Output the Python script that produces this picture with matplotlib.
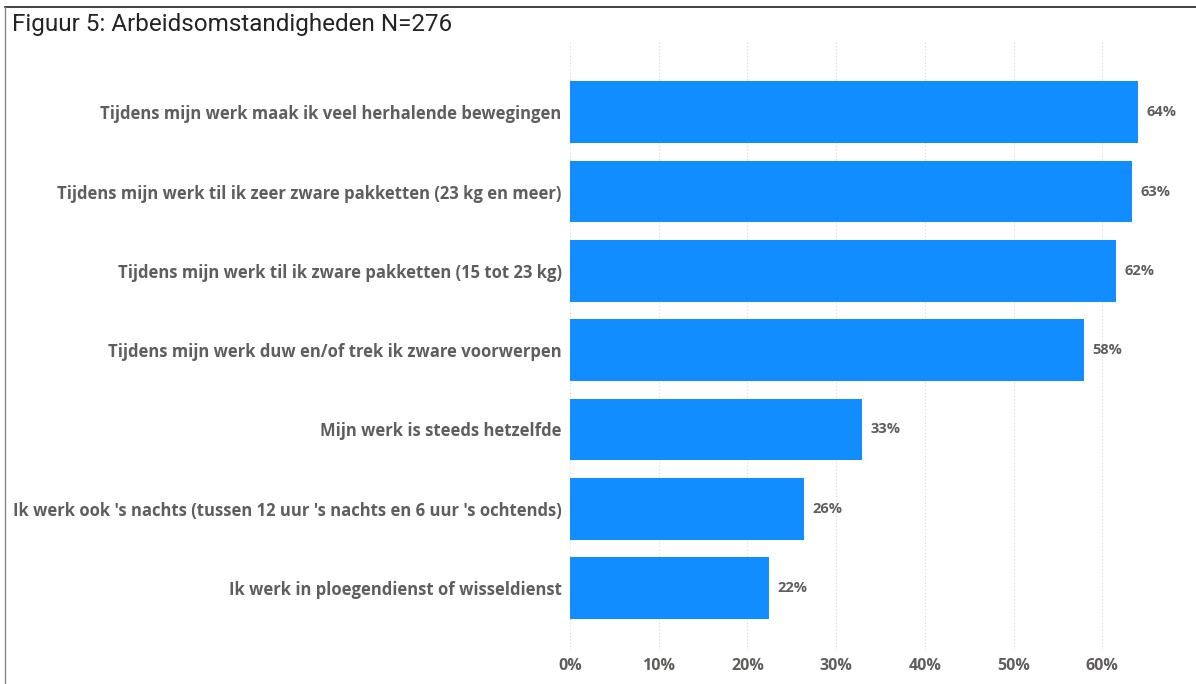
import matplotlib.pyplot as plt
from matplotlib.lines import Line2D
from matplotlib.ticker import FuncFormatter

# data
categories = [
    "Tijdens mijn werk maak ik veel herhalende bewegingen",
    "Tijdens mijn werk til ik zeer zware pakketten (23 kg en meer)",
    "Tijdens mijn werk til ik zware pakketten (15 tot 23 kg)",
    "Tijdens mijn werk duw en/of trek ik zware voorwerpen",
    "Mijn werk is steeds hetzelfde",
    "Ik werk ook 's nachts (tussen 12 uur 's nachts en 6 uur 's ochtends)",
    "Ik werk in ploegendienst of wisseldienst",
]
values = [0.640, 0.634, 0.616, 0.579, 0.329, 0.264, 0.224]
xticks = [0, 0.1, 0.2, 0.3, 0.4, 0.5, 0.6]

W, H = 1196, 684
fig = plt.figure(figsize=(W / 100, H / 100), dpi=100)
fig.patch.set_facecolor("white")

# axes box in pixels: left 570, right 1191, top 40, bottom 650
left, right, top, bottom = 570, 1191, 40, 650
ax = fig.add_axes([left / W, 1 - bottom / H, (right - left) / W, (bottom - top) / H])

label_font = dict(family=["Open Sans", "DejaVu Sans"], weight="bold", color="#605E5C")

ypos = list(range(len(categories)))
ax.barh(ypos, values, height=0.78, color="#118DFF", zorder=3)
ax.set_xlim(0, 0.70)
ax.set_ylim(6.78, -0.91)

ax.set_yticks(ypos)
ax.set_yticklabels(categories, fontsize=12, **label_font)
ax.set_xticks(xticks)
ax.xaxis.set_major_formatter(FuncFormatter(lambda v, p: f"{v * 100:.0f}%"))
for t in ax.get_xticklabels():
    t.set_fontsize(11.5)
    t.set_fontfamily(["Open Sans", "DejaVu Sans"])
    t.set_fontweight("bold")
    t.set_color("#605E5C")
ax.tick_params(axis="both", length=0)
ax.tick_params(axis="y", pad=6)
ax.tick_params(axis="x", pad=6)

ax.grid(axis="x", color="#D9D9D9", linestyle=(0, (1, 2)), linewidth=0.8, zorder=0)
ax.grid(axis="y", visible=False)
for s in ax.spines.values():
    s.set_visible(False)

for y, v in zip(ypos, values):
    ax.annotate(f"{v * 100:.0f}%", (v, y), xytext=(6, 0), textcoords="offset points",
                va="center", ha="left", fontsize=10.5, **label_font)

# title and frame lines
fig.text(12 / W, 1 - 24 / H, "Figuur 5: Arbeidsomstandigheden N=276",
         fontsize=17.5, color="#252423", va="center", ha="left",
         family=["Roboto", "DejaVu Sans"])
fig.add_artist(Line2D([5 / W, 1], [1 - 7 / H, 1 - 7 / H], color="#222222", linewidth=1.2))
fig.add_artist(Line2D([5 / W, 5 / W], [1 - 7 / H, 0], color="#888888", linewidth=1.0))

fig.savefig("out.png", dpi=100)
